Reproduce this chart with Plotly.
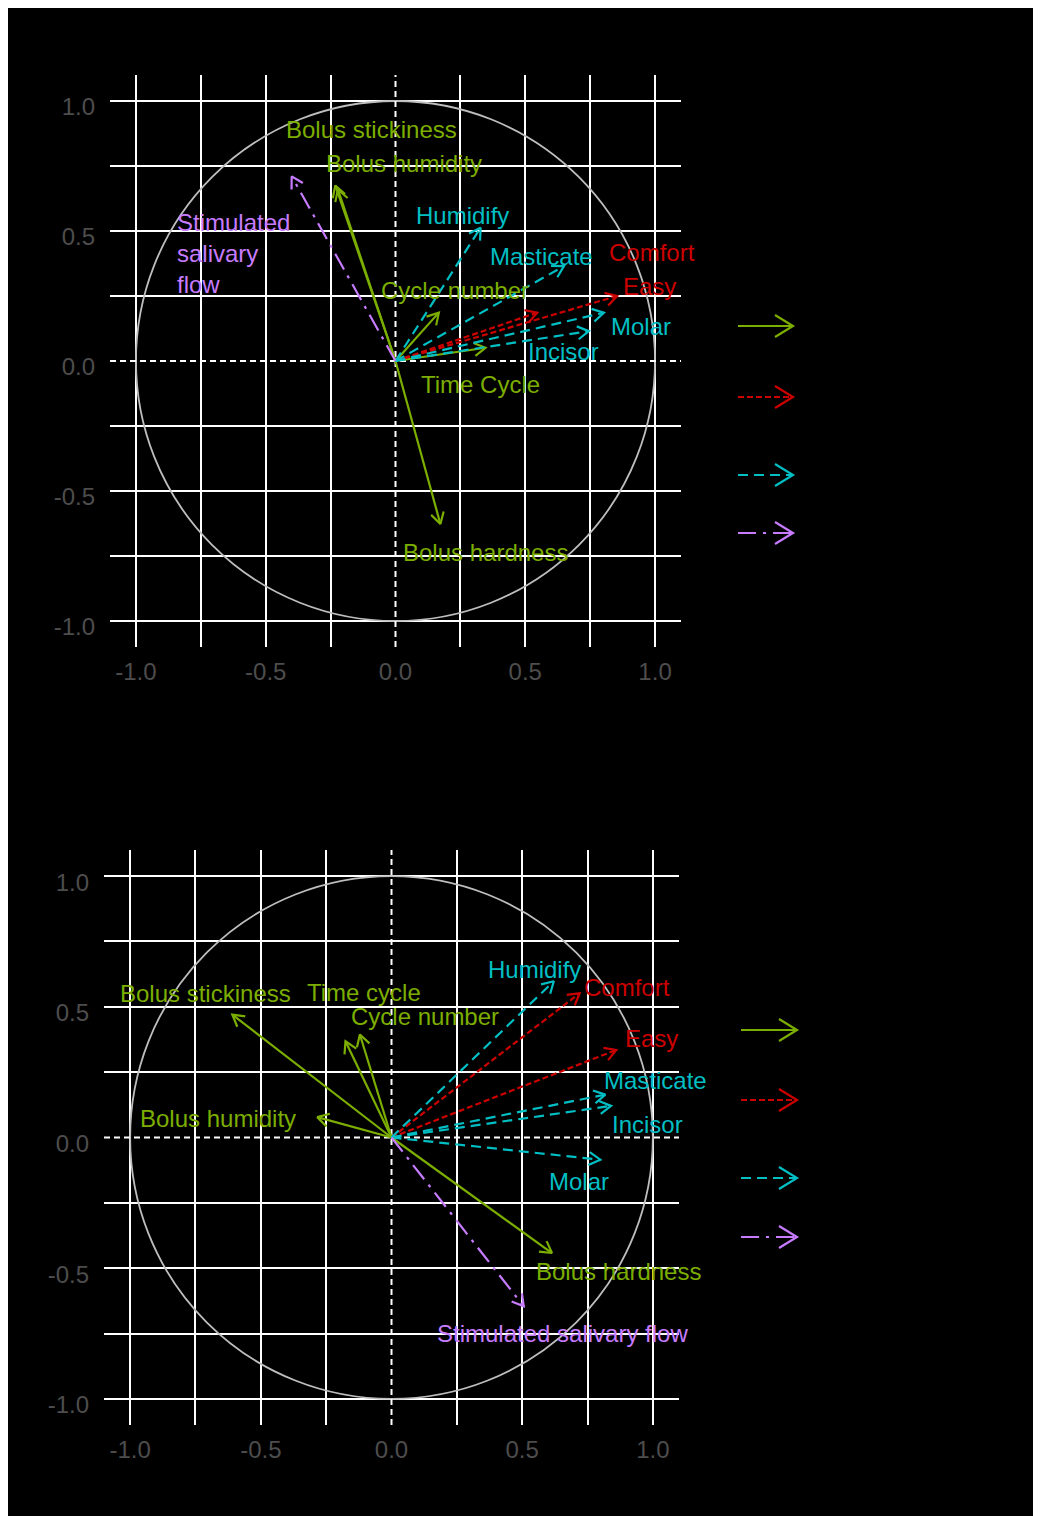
import math
import plotly.graph_objects as go

W, H = 1041, 1516          # reference picture size
FW, FH = 1060, 1516        # figure size (a bit wider so the black canvas reaches the right edge)
OFF = 8                    # page body margin of the viewer, in px

# ---------------- data ----------------
group_colors = {"bolus": "#7CAE00", "comfort": "#CD0000", "oral": "#00BFC4", "saliva": "#C77CFF"}
group_dash = {"bolus": "solid", "comfort": "6px,3px", "oral": "10px,6px", "saliva": "18px,7px,3px,7px"}
legend_groups = ["bolus", "comfort", "oral", "saliva"]

# Panel 1 (top)
p1_names = ["Bolus stickiness", "Bolus humidity", "Cycle number", "Time Cycle", "Bolus hardness",
            "Comfort", "Easy", "Humidify", "Masticate", "Molar", "Incisor", "Stimulated salivary flow"]
p1_group = ["bolus", "bolus", "bolus", "bolus", "bolus",
            "comfort", "comfort", "oral", "oral", "oral", "oral", "saliva"]
p1_x = [-0.232, -0.222, 0.167, 0.347, 0.173, 0.546, 0.854, 0.328, 0.649, 0.803, 0.745, -0.400]
p1_y = [0.675, 0.660, 0.186, 0.051, -0.627, 0.186, 0.250, 0.513, 0.365, 0.186, 0.115, 0.710]
p1_label_text = ["Bolus stickiness", "Bolus humidity", "Cycle number", "Time Cycle", "Bolus hardness",
                 "Comfort", "Easy", "Humidify", "Masticate", "Molar", "Incisor", "Stimulated<br>salivary<br>flow"]
p1_label_x = [-0.092, 0.031, 0.231, 0.328, 0.347, 0.990, 0.979, 0.258, 0.563, 0.944, 0.648, -0.848]
p1_label_y = [0.892, 0.758, 0.273, -0.092, -0.735, 0.419, 0.285, 0.558, 0.400, 0.131, 0.038, 0.412]
p1_label_anchor = ["center"] * 11 + ["left"]

# Panel 2 (bottom)
p2_names = ["Bolus stickiness", "Time cycle", "Cycle number", "Bolus humidity", "Bolus hardness",
            "Comfort", "Easy", "Humidify", "Masticate", "Incisor", "Molar", "Stimulated salivary flow"]
p2_group = ["bolus", "bolus", "bolus", "bolus", "bolus",
            "comfort", "comfort", "oral", "oral", "oral", "oral", "saliva"]
p2_x = [-0.609, -0.176, -0.121, -0.284, 0.614, 0.720, 0.860, 0.621, 0.818, 0.840, 0.799, 0.506]
p2_y = [0.470, 0.368, 0.394, 0.078, -0.442, 0.552, 0.335, 0.598, 0.164, 0.121, -0.085, -0.646]
p2_label_text = ["Bolus stickiness", "Time cycle", "Cycle number", "Bolus humidity", "Bolus hardness",
                 "Comfort", "Easy", "Humidify", "Masticate", "Incisor", "Molar", "Stimulated salivary flow"]
p2_label_x = [-0.713, -0.107, 0.130, -0.665, 0.868, 0.902, 0.994, 0.549, 1.011, 0.979, 0.719, 0.654]
p2_label_y = [0.551, 0.554, 0.463, 0.073, -0.512, 0.574, 0.379, 0.642, 0.218, 0.050, -0.168, -0.750]
p2_label_anchor = ["center"] * 12

tick_vals = [-1.0, -0.5, 0.0, 0.5, 1.0]
tick_text = ["-1.0", "-0.5", "0.0", "0.5", "1.0"]
grid_vals = [-1.0, -0.75, -0.5, -0.25, 0.25, 0.5, 0.75, 1.0]
AX_MIN, AX_MAX = -1.1, 1.1

# ---------------- layout geometry (pixels in the reference picture) ----------------
panels = [
    dict(px0=110, px1=681, py0=75, py1=647, legend_x0=738, legend_x1=793, legend_y=[326, 397, 475, 533]),
    dict(px0=104, px1=679, py0=850, py1=1425, legend_x0=741, legend_x1=797, legend_y=[1030, 1100, 1178, 1237]),
]


def fx(px):
    return (px - OFF) / FW


def fy(py):
    return 1 - (py - OFF) / FH


FONT = "Liberation Sans, Arial, sans-serif"
FS = 24
LW = 2.2
HEAD_LEN = 0.05
HEAD_ANG = math.radians(30)
ZDASH = "6px,4px"

fig = go.Figure()
shapes = []
annotations = []

data_sets = [
    (p1_names, p1_group, p1_x, p1_y, p1_label_text, p1_label_x, p1_label_y, p1_label_anchor),
    (p2_names, p2_group, p2_x, p2_y, p2_label_text, p2_label_x, p2_label_y, p2_label_anchor),
]

for i, (pan, ds) in enumerate(zip(panels, data_sets), start=1):
    xa = "x" if i == 1 else f"x{i}"
    ya = "y" if i == 1 else f"y{i}"
    names, groups, xs, ys, ltxt, lx, ly, lanc = ds

    axis_common = dict(range=[AX_MIN, AX_MAX], tickmode="array", tickvals=tick_vals, ticktext=tick_text,
                       showgrid=False, zeroline=False, showline=False, ticks="",
                       tickfont=dict(family=FONT, size=FS, color="#4D4D4D"),
                       minor=dict(tickmode="array", tickvals=grid_vals, showgrid=True,
                                  gridcolor="white", gridwidth=2, ticks=""),
                       fixedrange=True)
    fig.update_layout(**{
        ("xaxis" if i == 1 else f"xaxis{i}"): dict(axis_common, domain=[fx(pan["px0"]), fx(pan["px1"])],
                                                   anchor=ya, ticklabelstandoff=8),
        ("yaxis" if i == 1 else f"yaxis{i}"): dict(axis_common, domain=[fy(pan["py1"]), fy(pan["py0"])],
                                                   anchor=xa, ticklabelstandoff=14, ticklabelshift=6),
    })

    # unit circle
    shapes.append(dict(type="circle", xref=xa, yref=ya, x0=-1, x1=1, y0=-1, y1=1,
                       line=dict(color="#BEBEBE", width=1.8), layer="between"))
    # dashed zero lines
    shapes.append(dict(type="line", xref=xa, yref=ya, x0=0, x1=0, y0=AX_MIN, y1=AX_MAX,
                       line=dict(color="white", width=2, dash=ZDASH), layer="between"))
    shapes.append(dict(type="line", xref=xa, yref=ya, x0=AX_MIN, x1=AX_MAX, y0=0, y1=0,
                       line=dict(color="white", width=2, dash=ZDASH), layer="between"))

    # arrows
    for n, g, x, y in zip(names, groups, xs, ys):
        col = group_colors[g]
        fig.add_trace(go.Scatter(x=[0, x], y=[0, y], mode="lines", xaxis=xa, yaxis=ya,
                                 line=dict(color=col, width=LW, dash=group_dash[g]),
                                 hoverinfo="skip", showlegend=False, name=n))
        th = math.atan2(y, x)
        bx1 = x - HEAD_LEN * math.cos(th + HEAD_ANG)
        by1 = y - HEAD_LEN * math.sin(th + HEAD_ANG)
        bx2 = x - HEAD_LEN * math.cos(th - HEAD_ANG)
        by2 = y - HEAD_LEN * math.sin(th - HEAD_ANG)
        fig.add_trace(go.Scatter(x=[bx1, x, bx2], y=[by1, y, by2], mode="lines", xaxis=xa, yaxis=ya,
                                 line=dict(color=col, width=LW), hoverinfo="skip", showlegend=False))

    # labels
    for t, g, x, y, a in zip(ltxt, groups, lx, ly, lanc):
        annotations.append(dict(x=x, y=y, xref=xa, yref=ya, text=t, showarrow=False,
                                xanchor=a, yanchor="middle", align=a,
                                font=dict(family=FONT, size=FS, color=group_colors[g])))

    # legend glyphs (labels are black on black in the reference)
    for g, ly_px in zip(legend_groups, pan["legend_y"]):
        col = group_colors[g]
        x0p, x1p = pan["legend_x0"], pan["legend_x1"]
        shapes.append(dict(type="line", xref="paper", yref="paper",
                           x0=fx(x0p), x1=fx(x1p), y0=fy(ly_px), y1=fy(ly_px),
                           line=dict(color=col, width=LW, dash=group_dash[g])))
        hx, hy = 18, 11
        path = (f"M {fx(x1p - hx)},{fy(ly_px - hy)} L {fx(x1p)},{fy(ly_px)} "
                f"L {fx(x1p - hx)},{fy(ly_px + hy)}")
        shapes.append(dict(type="path", xref="paper", yref="paper", path=path,
                           line=dict(color=col, width=LW)))

fig.update_layout(width=FW, height=FH, autosize=False, margin=dict(l=0, r=0, t=0, b=0),
                  paper_bgcolor="black", plot_bgcolor="black", showlegend=False,
                  shapes=shapes, annotations=annotations, font=dict(family=FONT))

fig.write_html("out.html")
